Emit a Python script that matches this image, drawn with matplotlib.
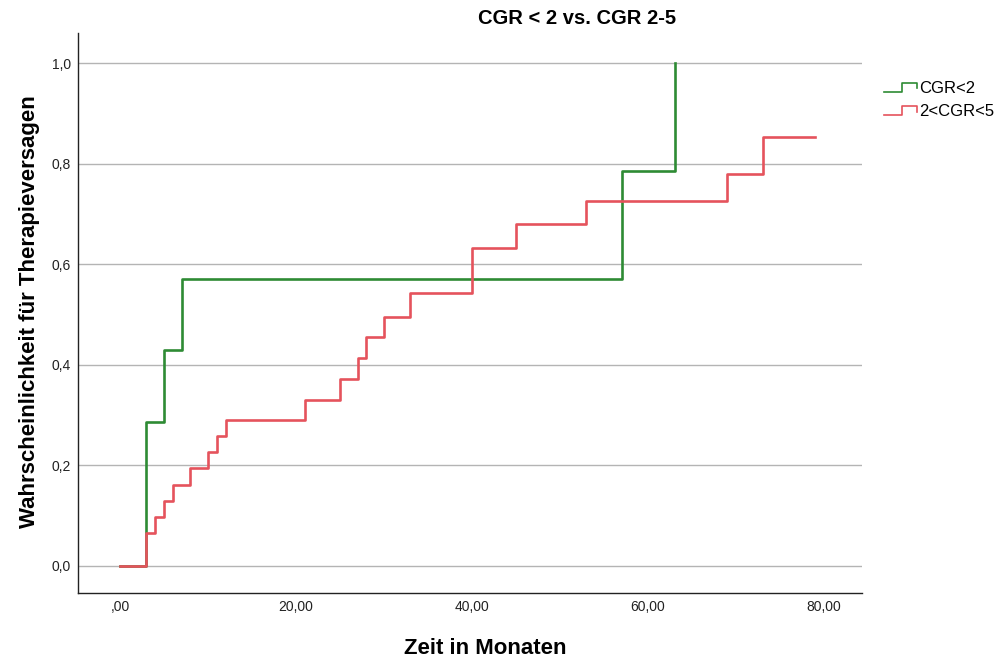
import matplotlib
matplotlib.use("Agg")
import matplotlib.pyplot as plt
from matplotlib.legend_handler import HandlerBase
from matplotlib.lines import Line2D

# Kaplan-Meier style cumulative failure curves
times_cgr2 = [0, 3, 5, 7, 57, 63]
prob_cgr2 = [0.0, 0.286, 0.429, 0.571, 0.786, 1.0]

times_cgr25 = [0, 3, 4, 5, 6, 8, 10, 11, 12, 21, 25, 27, 28, 30, 33, 40, 45, 53, 69, 73, 79]
prob_cgr25 = [0.0, 0.065, 0.097, 0.129, 0.161, 0.194, 0.226, 0.258, 0.290, 0.331,
              0.372, 0.413, 0.455, 0.496, 0.542, 0.633, 0.680, 0.725, 0.780, 0.853, 0.853]

series_labels = ["CGR<2", "2<CGR<5"]
x_ticks = [0, 20, 40, 60, 80]
x_tick_labels = [",00", "20,00", "40,00", "60,00", "80,00"]
y_ticks = [0.0, 0.2, 0.4, 0.6, 0.8, 1.0]
y_tick_labels = ["0,0", "0,2", "0,4", "0,6", "0,8", "1,0"]

GREEN = "#2E8B34"
RED = "#E5535C"

plt.rcParams["font.family"] = ["Liberation Sans", "DejaVu Sans"]

fig = plt.figure(figsize=(10.05, 6.61), dpi=100)
ax = fig.add_axes([78 / 1005, 68 / 661, 784 / 1005, 560 / 661])

ax.step(times_cgr2, prob_cgr2, where="post", color=GREEN, lw=1.9, zorder=3)
ax.step(times_cgr25, prob_cgr25, where="post", color=RED, lw=1.9, zorder=4)

ax.set_xlim(-4.77, 84.3)
ax.set_ylim(-0.0537, 1.06)
ax.set_xticks(x_ticks)
ax.set_xticklabels(x_tick_labels)
ax.set_yticks(y_ticks)
ax.set_yticklabels(y_tick_labels)
ax.tick_params(axis="both", length=0, labelsize=10, colors="#222222")
ax.tick_params(axis="x", pad=5)
ax.tick_params(axis="y", pad=5)
ax.grid(axis="y", color="#B4B4B4", lw=1.0, zorder=1)
for side in ("top", "right"):
    ax.spines[side].set_visible(False)
for side in ("left", "bottom"):
    ax.spines[side].set_color("#222222")
    ax.spines[side].set_linewidth(1.0)

fig.text(577 / 1005, 1 - 18 / 661, "CGR < 2 vs. CGR 2-5", ha="center", va="center",
         fontsize=14.5, fontweight="bold")
fig.text(485 / 1005, 1 - 648 / 661, "Zeit in Monaten", ha="center", va="center",
         fontsize=16, fontweight="bold")
fig.text(30 / 1005, 1 - 312 / 661, "Wahrscheinlichkeit für Therapieversagen", ha="center",
         va="center", rotation=90, fontsize=16, fontweight="bold")


class StepHandler(HandlerBase):
    def create_artists(self, legend, orig_handle, xdescent, ydescent, width, height,
                       fontsize, trans):
        x0, x1 = -xdescent, -xdescent + width
        lo, hi = -ydescent + 0.1 * height, -ydescent + 0.85 * height
        xm = x0 + 0.55 * width
        xs = [x0, xm, xm, x1, x1]
        ys = [lo, lo, hi, hi, lo + 0.3 * height]
        line = Line2D(xs, ys, color=orig_handle.get_color(), lw=1.2, transform=trans)
        return [line]


handles = [Line2D([], [], color=GREEN), Line2D([], [], color=RED)]
fig.legend(handles, series_labels, loc="upper left", bbox_to_anchor=(884 / 1005, 1 - 81 / 661),
           frameon=False, fontsize=12, handlelength=2.0, handletextpad=0.1,
           labelspacing=0.5, borderaxespad=0, borderpad=0, handler_map={Line2D: StepHandler()})

fig.savefig("out.png", dpi=100)
